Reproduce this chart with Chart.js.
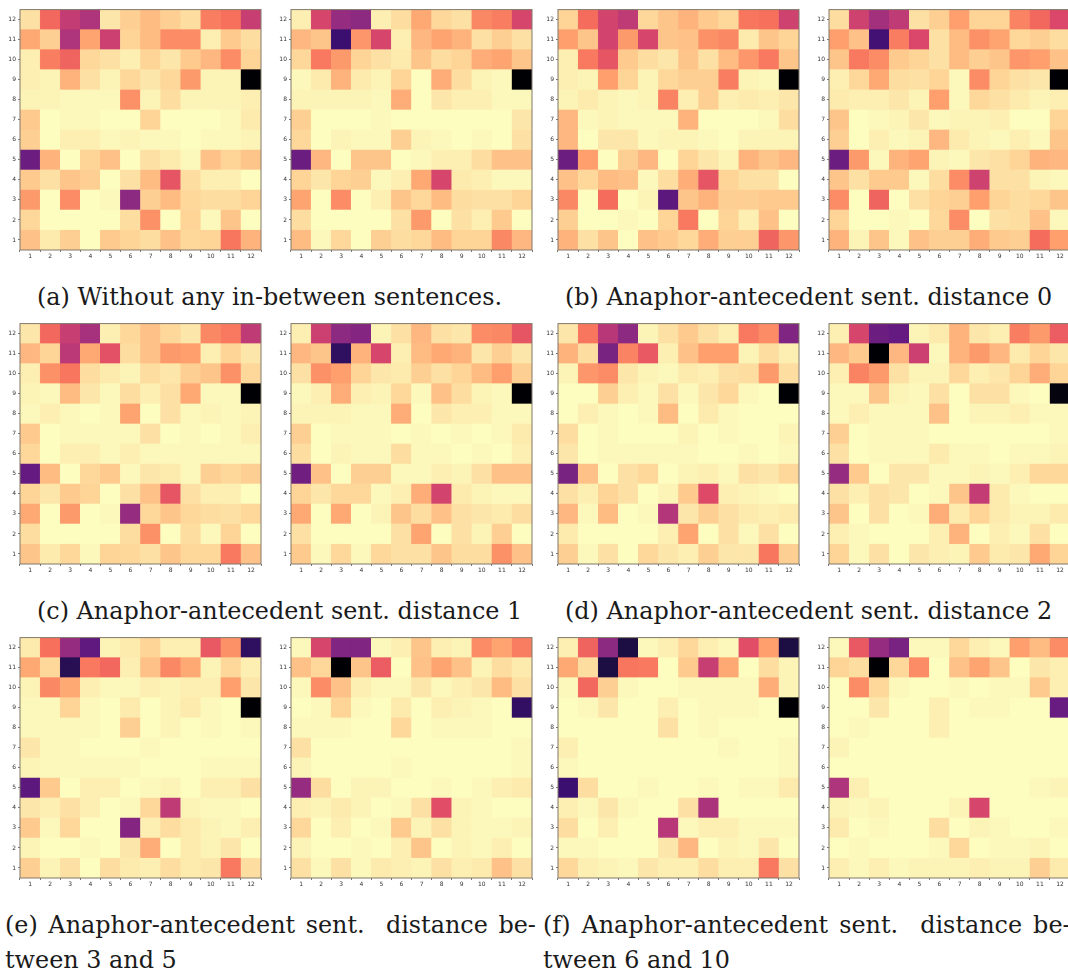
<!DOCTYPE html>
<html>
<head>
<meta charset="utf-8">
<script src="https://cdn.jsdelivr.net/npm/chart.js@4.2.0/dist/chart.umd.min.js"></script>
<style>
  html, body { margin: 0; padding: 0; width: 1068px; height: 973px; overflow: hidden; background: #fff; }
  canvas { position: absolute; }
  .cap { position: absolute; font-family: "DejaVu Serif", serif; font-size: 23.9px; line-height: 34px; color: #1a1a1a; white-space: pre; }
</style>
</head>
<body>
<script>
const categories = ['1', '2', '3', '4', '5', '6', '7', '8', '9', '10', '11', '12'];

// rows go from 12 (top) down to 1, values are 0..100 on the reversed magma scale
const panel1 = [
  [6,32,47,52,5,10,14,10,7,27,30,46],
  [18,10,52,19,45,9,14,24,24,3,11,7],
  [3,27,33,8,6,3,9,5,11,15,24,9],
  [3,2,16,6,2,8,5,8,21,2,2,100],
  [2,2,1,1,1,23,2,7,2,2,2,3],
  [11,0,1,1,0,0,9,0,0,0,1,4],
  [10,0,3,3,1,2,1,1,0,1,1,2],
  [68,16,0,9,13,0,6,4,1,13,9,12],
  [11,6,12,10,0,6,14,37,7,3,3,0],
  [21,0,24,0,1,60,10,14,8,7,7,9],
  [8,0,0,0,0,7,23,0,9,1,12,0],
  [13,4,10,0,11,9,7,13,8,9,29,16]
];
const panel2 = [
  [3,42,58,60,3,7,18,8,6,25,27,42],
  [15,12,80,22,42,3,15,19,16,6,10,6],
  [8,28,21,9,6,4,12,7,9,17,19,12],
  [1,4,16,4,2,9,0,17,7,2,1,100],
  [2,2,2,2,1,17,0,5,3,3,1,1],
  [10,0,0,0,1,0,0,0,0,0,0,5],
  [8,0,2,1,1,10,2,1,0,1,0,6],
  [68,15,0,12,12,0,1,3,3,7,13,13],
  [9,5,9,10,1,3,18,42,4,3,1,1],
  [19,0,24,0,3,12,8,14,7,6,6,9],
  [7,0,0,0,0,6,21,0,6,3,11,0],
  [14,1,8,0,10,7,8,14,9,9,25,15]
];
const panel3 = [
  [9,31,43,48,8,12,16,11,8,29,30,44],
  [20,12,43,21,42,12,13,23,25,4,12,9],
  [3,28,37,11,7,5,12,6,14,22,28,12],
  [3,2,20,9,2,8,10,10,27,2,1,100],
  [2,4,2,1,2,26,3,10,3,4,3,5],
  [15,1,2,1,1,1,16,0,0,0,1,7],
  [15,0,5,5,1,2,2,1,0,2,2,2],
  [68,20,0,10,15,0,9,5,2,16,12,15],
  [13,8,14,13,1,7,17,37,9,6,6,0],
  [25,0,31,0,2,72,12,16,10,10,11,11],
  [10,0,0,1,0,9,28,0,9,3,13,0],
  [16,6,12,0,13,11,8,17,10,10,33,22]
];
const panel4 = [
  [7,44,55,48,6,10,20,9,9,26,32,41],
  [20,13,78,27,41,6,14,23,19,8,10,7],
  [12,28,24,11,9,6,14,10,12,22,20,13],
  [3,8,18,7,6,9,1,24,9,6,5,100],
  [4,3,3,5,2,20,1,8,6,4,2,3],
  [12,0,1,2,5,1,2,2,3,0,0,9],
  [10,0,3,1,2,15,4,2,1,3,1,12],
  [68,21,1,16,19,2,1,5,6,9,16,15],
  [12,6,11,11,1,7,24,44,6,6,2,1],
  [24,0,33,0,6,9,10,20,9,7,8,12],
  [9,0,0,1,0,8,24,0,6,7,13,1],
  [16,2,12,1,13,10,10,17,11,10,31,20]
];
const panel5 = [
  [5,32,46,54,3,8,13,8,5,25,28,48],
  [15,9,49,18,38,7,13,21,20,3,9,5],
  [3,23,29,7,4,2,7,5,10,12,23,8],
  [2,1,14,5,1,7,3,6,18,1,1,100],
  [1,3,1,0,1,19,0,6,1,2,1,2],
  [11,0,1,1,1,1,6,0,1,0,1,3],
  [8,0,3,3,1,3,1,1,1,1,1,1],
  [70,14,0,8,11,1,5,4,1,10,8,10],
  [9,5,11,9,0,6,13,37,6,3,3,0],
  [18,0,21,0,1,58,8,12,8,7,6,8],
  [7,0,0,0,0,7,23,0,7,1,9,0],
  [12,4,8,1,9,8,6,12,8,8,28,13]
];
const panel6 = [
  [3,45,60,62,2,6,15,6,5,24,25,37],
  [15,12,83,16,42,3,14,18,16,5,10,5],
  [6,23,20,9,5,4,10,6,9,14,20,10],
  [1,3,17,3,2,8,1,13,7,2,1,100],
  [2,2,2,1,1,17,0,5,3,3,1,1],
  [10,0,1,1,1,0,1,0,1,0,1,4],
  [7,0,2,1,1,7,1,1,0,1,0,3],
  [67,13,0,10,10,1,1,3,2,6,13,13],
  [9,5,8,8,1,3,17,43,4,2,1,1],
  [18,0,18,0,2,12,7,13,6,5,4,7],
  [6,0,0,0,0,6,19,0,6,2,10,0],
  [11,1,8,1,8,6,6,12,7,7,23,13]
];
const panel7 = [
  [5,29,50,60,2,6,11,6,3,28,24,63],
  [16,7,65,26,36,3,13,20,20,2,7,3],
  [2,22,24,5,2,1,4,3,6,7,21,7],
  [0,0,10,3,1,6,1,5,8,1,0,100],
  [0,3,1,0,1,14,0,4,1,0,0,0],
  [7,0,1,0,0,0,2,0,1,0,0,2],
  [5,0,1,1,1,1,1,0,0,1,0,1],
  [65,13,0,6,8,0,2,3,1,6,5,8],
  [6,3,9,6,0,2,11,40,3,2,1,0],
  [15,1,14,0,1,51,5,10,6,4,3,4],
  [4,0,0,0,0,3,19,0,6,1,6,0],
  [10,1,6,0,8,5,3,10,5,5,29,10]
];
const panel8 = [
  [3,42,68,70,2,4,16,5,3,27,21,35],
  [15,11,100,15,45,1,16,21,15,4,9,5],
  [3,26,21,6,2,2,8,3,5,9,17,9],
  [1,1,12,2,1,6,0,6,6,1,0,98],
  [1,3,1,1,1,13,0,2,2,3,1,1],
  [10,0,1,1,1,0,0,0,0,0,0,1],
  [6,0,1,1,1,4,1,1,0,1,1,2],
  [58,11,0,5,5,1,1,2,1,3,8,8],
  [6,3,6,5,0,1,12,47,4,1,0,0],
  [12,0,6,0,1,17,4,9,4,2,2,4],
  [3,1,0,0,0,3,16,0,3,1,6,0],
  [9,1,6,0,5,3,2,11,4,5,18,9]
];
const panel9 = [
  [4,30,58,71,2,4,9,3,3,36,23,83],
  [18,8,85,28,32,3,13,25,18,2,8,3],
  [2,25,18,3,1,1,3,2,3,3,20,5],
  [1,1,9,1,0,4,0,2,4,1,0,100],
  [1,1,1,1,0,10,0,2,0,1,0,1],
  [5,1,1,0,0,0,1,0,0,0,0,0],
  [2,1,1,1,1,1,0,0,0,1,1,1],
  [72,11,0,3,3,0,1,2,0,3,3,6],
  [5,3,6,3,0,1,8,48,2,1,1,0],
  [11,1,8,0,0,62,3,7,4,2,1,3],
  [2,0,0,1,0,5,17,0,4,2,5,0],
  [10,2,6,0,7,4,3,7,4,5,28,7]
];
const panel10 = [
  [1,42,63,63,1,3,12,3,2,24,19,27],
  [13,8,100,12,35,0,13,19,13,2,7,4],
  [1,24,13,3,1,1,5,1,3,5,14,6],
  [0,1,9,1,0,4,0,3,2,1,0,82],
  [1,1,1,0,0,8,0,1,1,1,0,0],
  [6,0,0,0,0,0,0,0,0,0,0,1],
  [2,0,0,0,0,1,0,0,0,0,0,1],
  [58,7,0,2,2,0,0,1,0,1,3,4],
  [3,2,4,2,0,1,6,39,2,1,0,0],
  [8,0,3,0,1,11,2,6,2,1,1,2],
  [2,0,0,1,0,3,12,0,2,1,3,0],
  [6,1,6,1,4,3,2,6,3,4,13,6]
];
const panel11 = [
  [3,33,60,88,1,3,8,3,1,39,20,88],
  [18,7,88,29,28,0,11,46,18,0,7,2],
  [1,32,10,1,0,0,1,1,1,1,17,2],
  [0,1,5,0,0,3,0,1,1,1,0,100],
  [0,0,0,0,0,6,0,1,0,0,0,0],
  [3,0,0,0,0,0,0,0,1,0,0,1],
  [1,0,0,0,0,0,0,0,0,0,0,1],
  [80,7,0,0,1,0,0,1,0,1,1,4],
  [3,1,5,1,0,0,6,53,0,0,0,0],
  [7,0,3,0,0,50,1,3,3,1,1,1],
  [1,1,0,0,0,5,15,0,2,1,5,0],
  [8,3,2,1,5,3,3,7,3,3,28,6]
];
const panel12 = [
  [1,36,58,65,1,1,8,3,1,20,14,24],
  [9,7,100,8,24,0,13,19,12,0,5,3],
  [0,24,8,1,0,0,1,0,1,1,11,3],
  [0,0,5,0,0,3,0,1,1,0,0,69],
  [0,1,0,0,0,3,0,0,0,0,0,0],
  [2,0,0,0,0,0,0,0,0,0,0,0],
  [0,0,0,0,0,0,0,0,0,0,0,0],
  [52,3,0,0,0,0,0,0,0,0,1,2],
  [2,1,2,0,0,0,2,42,0,0,0,0],
  [4,0,1,0,0,7,0,2,1,0,0,1],
  [0,1,0,0,0,1,8,0,1,1,2,0],
  [3,1,3,1,2,2,2,3,2,2,10,4]
];

const panels = [panel1, panel2, panel3, panel4, panel5, panel6, panel7, panel8, panel9, panel10, panel11, panel12];

const captions = [
  ['(a) Without any in-between sentences.', 37, 280, 0],
  ['(b) Anaphor-antecedent sent. distance 0', 565, 280, 0],
  ['(c) Anaphor-antecedent sent. distance 1', 37, 594, 0],
  ['(d) Anaphor-antecedent sent. distance 2', 565, 594, 0],
  ['(e) Anaphor-antecedent sent.  distance be-', 5, 908, 3],
  ['tween 3 and 5', 5, 943, 0],
  ['(f) Anaphor-antecedent sent.  distance be-', 543, 908, 3.4],
  ['tween 6 and 10', 543, 943, 0]
];

const colX = [20, 291.3, 558, 829.3];
const rowY = [8, 321.7, 636];
const plotW = 241.7, plotH = 242.3;
const padL = 20, padT = 4, padB = 16, padR = 4;

// magma_r sampled every tenth
const magmaStops = [[252,253,191],[254,207,146],[254,159,109],[247,112,92],[222,73,104],[183,55,121],[140,41,129],[100,26,128],[59,15,112],[20,14,54],[0,0,4]];

function levelColor(v) {
  var p = Math.min(v, 100) / 10, i = Math.min(Math.floor(p), 9), t = p - i;
  var a = magmaStops[i], b = magmaStops[i + 1];
  return 'rgb(' + [0, 1, 2].map(function (k) { return Math.round(a[k] + (b[k] - a[k]) * t); }).join(',') + ')';
}

const frame = {
  id: 'frame',
  afterDraw: function (chart) {
    var a = chart.chartArea, c = chart.ctx;
    c.save();
    c.strokeStyle = '#80796a';
    c.lineWidth = 1;
    c.strokeRect(a.left, a.top, a.right - a.left, a.bottom - a.top);
    c.restore();
  }
};

panels.forEach(function (rows, n) {
  var canvas = document.createElement('canvas');
  var left = colX[n % 4], top = rowY[Math.floor(n / 4)];
  canvas.width = plotW + padL + padR;
  canvas.height = plotH + padT + padB;
  canvas.style.left = (left - padL) + 'px';
  canvas.style.top = (top - padT) + 'px';
  document.body.appendChild(canvas);

  // bottom row goes first so the stack builds upward
  var datasets = rows.slice().reverse().map(function (row) {
    return {
      data: row.map(function () { return 1; }),
      backgroundColor: row.map(levelColor),
      borderColor: row.map(levelColor),
      borderWidth: 0.4,
      borderSkipped: false,
      barPercentage: 1,
      categoryPercentage: 1
    };
  });

  new Chart(canvas, {
    type: 'bar',
    data: { labels: categories, datasets: datasets },
    plugins: [frame],
    options: {
      responsive: false,
      animation: false,
      devicePixelRatio: 1,
      layout: { padding: { left: 0, top: padT, right: padR, bottom: 0 } },
      plugins: { legend: { display: false }, tooltip: { enabled: false } },
      scales: {
        x: {
          stacked: true,
          afterFit: function (s) { s.height = padB; },
          grid: { drawOnChartArea: false, tickLength: 2, color: '#777' },
          border: { display: false },
          ticks: { color: '#333', font: { family: 'DejaVu Sans', size: 6 }, padding: 1, maxRotation: 0, autoSkip: false }
        },
        y: {
          stacked: true,
          min: 0,
          max: 12,
          afterFit: function (s) { s.width = padL; },
          afterBuildTicks: function (s) {
            s.ticks = categories.map(function (c, i) { return { value: i + 0.5 }; });
          },
          grid: { drawOnChartArea: false, tickLength: 2, color: '#777' },
          border: { display: false },
          ticks: {
            color: '#333',
            font: { family: 'DejaVu Sans', size: 6 },
            padding: 2,
            autoSkip: false,
            callback: function (v) { return categories[Math.floor(v)]; }
          }
        }
      }
    }
  });
});

captions.forEach(function (c) {
  var d = document.createElement('div');
  d.className = 'cap';
  d.textContent = c[0];
  d.style.left = c[1] + 'px';
  d.style.top = c[2] + 'px';
  d.style.wordSpacing = c[3] + 'px';
  document.body.appendChild(d);
});
</script>
</body>
</html>
